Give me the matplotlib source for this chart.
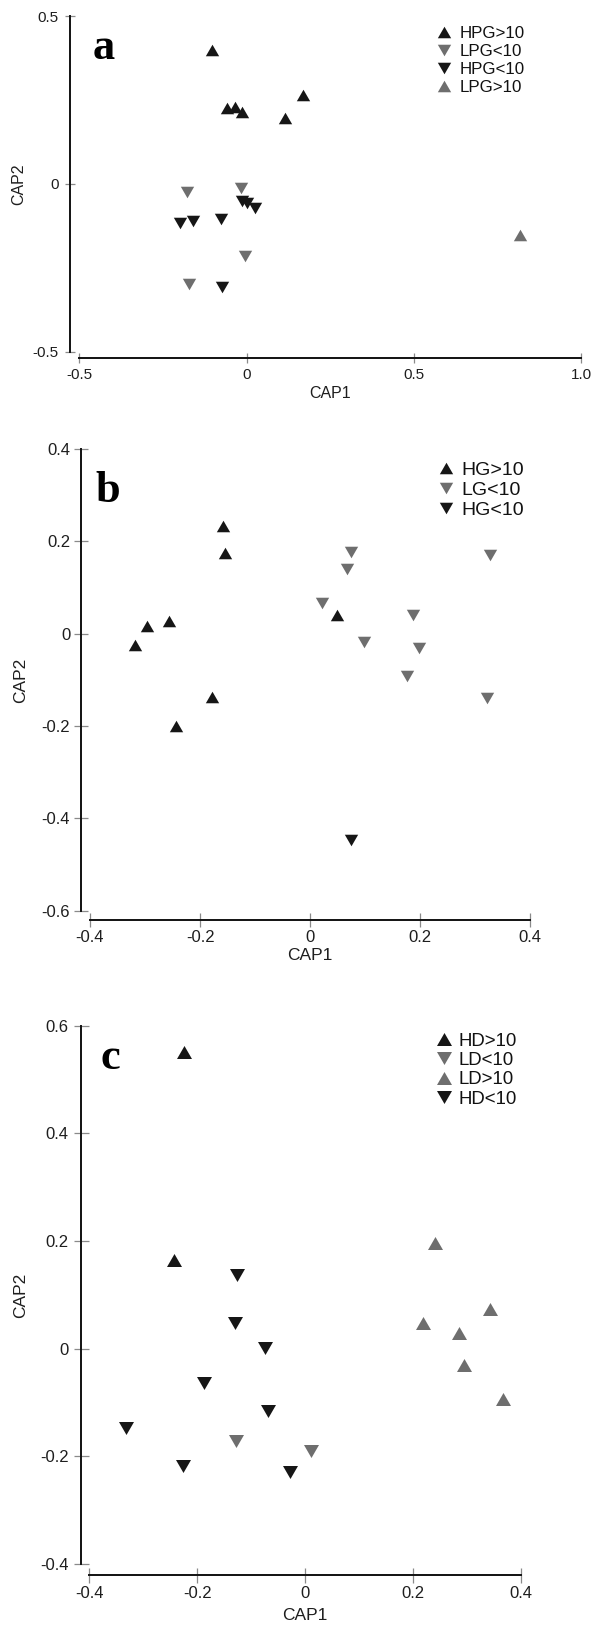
import matplotlib
matplotlib.use("Agg")
import matplotlib.pyplot as plt

plt.rcParams["font.family"] = ["Liberation Sans", "DejaVu Sans"]
plt.rcParams["axes.unicode_minus"] = False

# ---------------- data: panel a ----------------
a_hpg_gt10_x = [-0.104, -0.059, -0.034, -0.013, 0.113, 0.167]
a_hpg_gt10_y = [0.399, 0.225, 0.230, 0.215, 0.196, 0.265]
a_lpg_lt10_x = [-0.179, -0.018, -0.005, -0.171]
a_lpg_lt10_y = [-0.023, -0.013, -0.216, -0.298]
a_hpg_lt10_x = [-0.199, -0.161, -0.077, -0.015, 0.002, 0.025, -0.074]
a_hpg_lt10_y = [-0.117, -0.112, -0.105, -0.050, -0.056, -0.071, -0.308]
a_lpg_gt10_x = [0.816]
a_lpg_gt10_y = [-0.152]
a_xticks = [-0.5, 0.0, 0.5, 1.0]
a_xticklabels = ["-0.5", "0", "0.5", "1.0"]
a_yticks = [-0.5, 0.0, 0.5]
a_yticklabels = ["-0.5", "0", "0.5"]

# ---------------- data: panel b ----------------
b_hg_gt10_x = [-0.159, -0.154, -0.297, -0.257, -0.318, -0.179, -0.244, 0.049]
b_hg_gt10_y = [0.234, 0.175, 0.017, 0.028, -0.024, -0.138, -0.199, 0.041]
b_lg_lt10_x = [0.074, 0.067, 0.021, 0.098, 0.186, 0.198, 0.176, 0.327, 0.322]
b_lg_lt10_y = [0.176, 0.141, 0.066, -0.017, 0.040, -0.030, -0.092, 0.171, -0.139]
b_hg_lt10_x = [0.074]
b_hg_lt10_y = [-0.446]
b_xticks = [-0.4, -0.2, 0.0, 0.2, 0.4]
b_xticklabels = ["-0.4", "-0.2", "0", "0.2", "0.4"]
b_yticks = [-0.6, -0.4, -0.2, 0.0, 0.2, 0.4]
b_yticklabels = ["-0.6", "-0.4", "-0.2", "0", "0.2", "0.4"]

# ---------------- data: panel c ----------------
c_hd_gt10_x = [-0.224, -0.244]
c_hd_gt10_y = [0.552, 0.165]
c_ld_lt10_x = [-0.128, 0.011]
c_ld_lt10_y = [-0.172, -0.190]
c_ld_gt10_x = [0.241, 0.218, 0.286, 0.343, 0.295, 0.367]
c_ld_gt10_y = [0.196, 0.048, 0.030, 0.073, -0.030, -0.093]
c_hd_lt10_x = [-0.126, -0.130, -0.075, -0.187, -0.069, -0.333, -0.226, -0.029]
c_hd_lt10_y = [0.136, 0.047, 0.001, -0.064, -0.116, -0.147, -0.218, -0.230]
c_xticks = [-0.4, -0.2, 0.0, 0.2, 0.4]
c_xticklabels = ["-0.4", "-0.2", "0", "0.2", "0.4"]
c_yticks = [-0.4, -0.2, 0.0, 0.2, 0.4, 0.6]
c_yticklabels = ["-0.4", "-0.2", "0", "0.2", "0.4", "0.6"]

# ---------------- styling ----------------
W, H = 593, 1625
DARK = "#161616"
GREY = "#6e6e6e"
TRI_UP = [(-1, -0.866), (1, -0.866), (0, 0.866)]
TRI_DOWN = [(-1, 0.866), (1, 0.866), (0, -0.866)]

fig = plt.figure(figsize=(W / 100, H / 100), dpi=100)


def fx(px):
    return px / W


def fy(py):
    return 1 - py / H


def make_axes(left, right, top, bottom):
    return fig.add_axes([fx(left), fy(bottom), fx(right) - fx(left), (bottom - top) / H])


def style_axes(ax, xlim, ylim, xticks, xlabels, yticks, ylabels,
               left_out, bottom_out, tick_len, tick_fs, xpad, ypad):
    ax.set_xlim(*xlim)
    ax.set_ylim(*ylim)
    for side in ("top", "right"):
        ax.spines[side].set_visible(False)
    ax.spines["left"].set_position(("outward", left_out * 0.72))
    ax.spines["bottom"].set_position(("outward", bottom_out * 0.72))
    for side in ("left", "bottom"):
        ax.spines[side].set_linewidth(1.4)
        ax.spines[side].set_color("#111111")
    ax.spines["left"].set_bounds(*ylim)
    ax.spines["bottom"].set_bounds(*xlim)
    ax.set_xticks(xticks)
    ax.set_xticklabels(xlabels)
    ax.set_yticks(yticks)
    ax.set_yticklabels(ylabels)
    ax.tick_params(axis="both", direction="inout", length=tick_len * 0.72,
                   width=0.9, color="#8a8a8a", labelsize=tick_fs,
                   labelcolor="#1e1e1e")
    ax.tick_params(axis="x", pad=xpad)
    ax.tick_params(axis="y", pad=ypad)
    ax.patch.set_alpha(0)


def scatter(ax, xs, ys, verts, color, label, ms):
    return ax.plot(xs, ys, linestyle="none", marker=verts, markersize=ms,
                   markerfacecolor=color, markeredgecolor=color,
                   markeredgewidth=0, label=label)[0]


def add_legend(ax, handles, mx, ry, fs, spacing):
    fs_px = fs * 100 / 72
    hl = 0.8
    text_h = 1.15 * fs_px
    ls = max((spacing - text_h) / fs_px, 0.0)
    left = mx - hl * fs_px / 2
    top = ry - text_h / 2
    ax.legend(handles=handles, loc="upper left",
              bbox_to_anchor=(fx(left), fy(top)), bbox_transform=fig.transFigure,
              frameon=False, fontsize=fs, handlelength=hl,
              handletextpad=(14.8 / fs_px) - hl / 2, labelspacing=ls,
              borderpad=0, borderaxespad=0, handleheight=0.7,
              labelcolor="#111111")


def axis_labels(ax, xl_pos, yl_pos, fs):
    ax.set_xlabel("CAP1", fontsize=fs, color="#1e1e1e", va="center")
    ax.set_ylabel("CAP2", fontsize=fs, color="#1e1e1e", va="center")
    ax.xaxis.set_label_coords(fx(xl_pos[0]), fy(xl_pos[1]), transform=fig.transFigure)
    ax.yaxis.set_label_coords(fx(yl_pos[0]), fy(yl_pos[1]), transform=fig.transFigure)


def panel_letter(letter, x, y):
    fig.text(fx(x), fy(y), letter, family=["Liberation Serif", "DejaVu Serif"],
             weight="bold", fontsize=32, ha="left", va="baseline", color="#000000")


# ---------------- panel a ----------------
ax_a = make_axes(79.4, 581.3, 16.0, 351.7)
ms_a = 9.6
h = [
    scatter(ax_a, a_hpg_gt10_x, a_hpg_gt10_y, TRI_UP, DARK, "HPG>10", ms_a),
    scatter(ax_a, a_lpg_lt10_x, a_lpg_lt10_y, TRI_DOWN, GREY, "LPG<10", ms_a),
    scatter(ax_a, a_hpg_lt10_x, a_hpg_lt10_y, TRI_DOWN, DARK, "HPG<10", ms_a),
    scatter(ax_a, a_lpg_gt10_x, a_lpg_gt10_y, TRI_UP, GREY, "LPG>10", ms_a),
]
style_axes(ax_a, (-0.5, 1.0), (-0.5, 0.5), a_xticks, a_xticklabels,
           a_yticks, a_yticklabels, 9.4, 6.6, 10, 11, 3.5, 4.5)
add_legend(ax_a, h, 444.4, 36.0, 12.2, 22.4)
axis_labels(ax_a, (330.3, 394.0), (19.0, 184.0), 11.5)
panel_letter("a", 92.5, 59.0)

# ---------------- panel b ----------------
ax_b = make_axes(90.0, 530.3, 449.0, 910.7)
ms_b = 9.6
h = [
    scatter(ax_b, b_hg_gt10_x, b_hg_gt10_y, TRI_UP, DARK, "HG>10", ms_b),
    scatter(ax_b, b_lg_lt10_x, b_lg_lt10_y, TRI_DOWN, GREY, "LG<10", ms_b),
    scatter(ax_b, b_hg_lt10_x, b_hg_lt10_y, TRI_DOWN, DARK, "HG<10", ms_b),
]
style_axes(ax_b, (-0.4, 0.4), (-0.6, 0.4), b_xticks, b_xticklabels,
           b_yticks, b_yticklabels, 8.7, 9.3, 14, 12, 2.0, 3.0)
add_legend(ax_b, h, 446.3, 472.3, 14.0, 24.7)
axis_labels(ax_b, (310.2, 955.7), (21.0, 680.0), 12.5)
panel_letter("b", 95.0, 501.7)

# ---------------- panel c ----------------
ax_c = make_axes(89.5, 520.8, 1025.7, 1564.0)
ms_c = 10.8
h = [
    scatter(ax_c, c_hd_gt10_x, c_hd_gt10_y, TRI_UP, DARK, "HD>10", ms_c),
    scatter(ax_c, c_ld_lt10_x, c_ld_lt10_y, TRI_DOWN, GREY, "LD<10", ms_c),
    scatter(ax_c, c_ld_gt10_x, c_ld_gt10_y, TRI_UP, GREY, "LD>10", ms_c),
    scatter(ax_c, c_hd_lt10_x, c_hd_lt10_y, TRI_DOWN, DARK, "HD<10", ms_c),
]
style_axes(ax_c, (-0.4, 0.4), (-0.4, 0.6), c_xticks, c_xticklabels,
           c_yticks, c_yticklabels, 9.0, 11.0, 15, 12, 2.5, 3.0)
add_legend(ax_c, h, 444.0, 1043.3, 13.4, 23.7)
axis_labels(ax_c, (305.2, 1615.8), (21.0, 1295.0), 12.5)
panel_letter("c", 100.5, 1069.0)

fig.savefig("out.png", dpi=100)
